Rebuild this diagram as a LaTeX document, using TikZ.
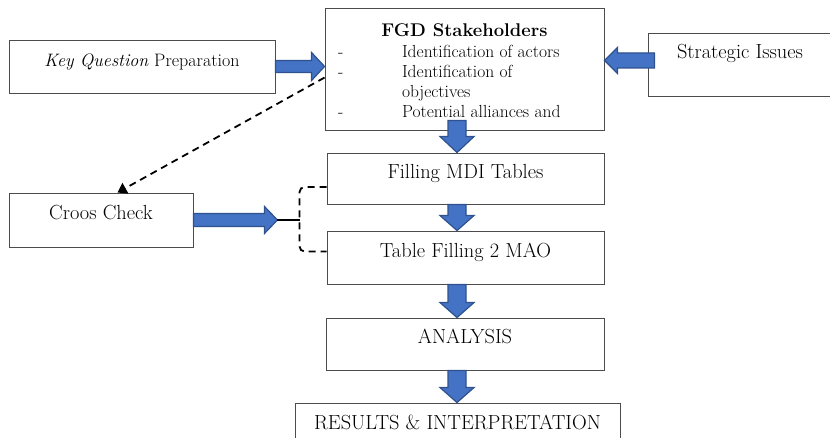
\documentclass[tikz,border=0pt]{standalone}
\usepackage{tikz}
\usetikzlibrary{arrows.meta,calc,positioning}

\definecolor{arrowblue}{HTML}{4472C4}
\definecolor{arrowedge}{HTML}{2F528F}

\tikzset{
    box/.style={draw=black!70, line width=0.9pt, rectangle, inner sep=0pt,
        align=center, font=\fontsize{20.4}{22}\selectfont},
    flow box/.style={text height=12pt, text depth=12pt},
    fat arrow/.style n args={3}{draw=arrowedge, fill=arrowblue, line width=1.2pt,
        to path={let \p1=(\tikztostart), \p2=(\tikztotarget),
            \n1={atan2(\y2-\y1,\x2-\x1)}, \n2={veclen(\x2-\x1,\y2-\y1)} in
            {[shift={(\p1)}, rotate=\n1]
            (0pt,-#1pt) -- ({(\n2-#3)*1pt},-#1pt) -- ({(\n2-#3)*1pt},-#2pt)
            -- ({\n2*1pt},0pt) -- ({(\n2-#3)*1pt},#2pt) -- ({(\n2-#3)*1pt},#1pt)
            -- (0pt,#1pt) -- cycle}}},
    check line/.style={line width=1.8pt, dash pattern=on 7pt off 5pt}
}

\begin{document}
\begin{tikzpicture}[x=1pt, y=-1pt]
    \useasboundingbox (0,0) rectangle (830,438);
    % stakeholder box.
    \node[box, minimum width=279, minimum height=122, font=\fontsize{17.5}{20}\selectfont] (fgd) at (464.5,69)
        {\rule{0pt}{21.8pt}{\fontsize{18.4}{20}\selectfont\textbf{FGD Stakeholders}}\\[5.5pt]
         \begin{tabular}{@{\hspace{13pt}}p{64pt}@{}p{202pt}@{}}
         - & Identification of actors\\
         - & Identification of\\
           & objectives\\
         - & Potential alliances and
         \end{tabular}};
    % side boxes.
    \node[box, flow box, minimum width=266, minimum height=53, font=\fontsize{18}{20}\selectfont] (kq) at (142,66.5) {\textit{Key Question} Preparation};
    \node[box, flow box, minimum width=184, minimum height=63, text depth=23pt] (si) at (740,64.5) {Strategic Issues};
    \node[box, flow box, minimum width=184, minimum height=54] (croos) at (101,220) {Croos Check};
    % main column.
    \node[box, flow box, minimum width=277, minimum height=51] (mdi) at (465.5,178.5) {Filling MDI Tables};
    \node[box, flow box, minimum width=277, minimum height=53] (mao) at (465.5,257.5) {Table Filling 2 MAO};
    \node[box, flow box, minimum width=278, minimum height=52] (ana) at (465,344) {ANALYSIS};
    \node[box, flow box, minimum width=325, minimum height=52] (res) at (457.5,429) {RESULTS \& INTERPRETATION};
    % block arrows into the stakeholder box.
    \path[fat arrow={6}{14}{13}] (kq.east) to (kq.east -| fgd.west);
    \path[fat arrow={7.5}{13}{13}] ($(si.west)+(7,-4)$) to ($(si.west -| fgd.east)+(0,-4)$);
    % block arrows down the main column.
    \coordinate (spine) at (457,0);
    \path[fat arrow={9}{17}{16}] ($(spine |- fgd.south)+(0,-10)$) to (spine |- mdi.north);
    \foreach \a/\b in {mdi/mao, mao/ana, ana/res}
        \path[fat arrow={9}{17}{15}] (spine |- \a.south) to (spine |- \b.north);
    % cross check.
    \coordinate (check start) at ($(fgd.north west)+(0,70)$);
    \coordinate (check end) at ($(croos.north west)+(109,0)$);
    \draw[check line, -{Triangle[width=12pt,length=9pt]}] (check start) -- (check end);
    \coordinate (croos tip) at ($(croos.east)+(84,0)$);
    \path[fat arrow={6.5}{13.5}{13}] (croos.east) to (croos tip);
    \coordinate (bracket top) at ($(mdi.west)+(0,8.5)$);
    \coordinate (bracket bottom) at ($(mao.west)+(0,-6)$);
    \coordinate (bracket joint) at ($(bracket top)+(-27,0)$);
    \draw[check line, rounded corners=5pt] (bracket top) -- (bracket joint) |- (bracket bottom);
    \draw[line width=1.5pt] (croos tip) -- (croos tip -| bracket joint);
\end{tikzpicture}
\end{document}
